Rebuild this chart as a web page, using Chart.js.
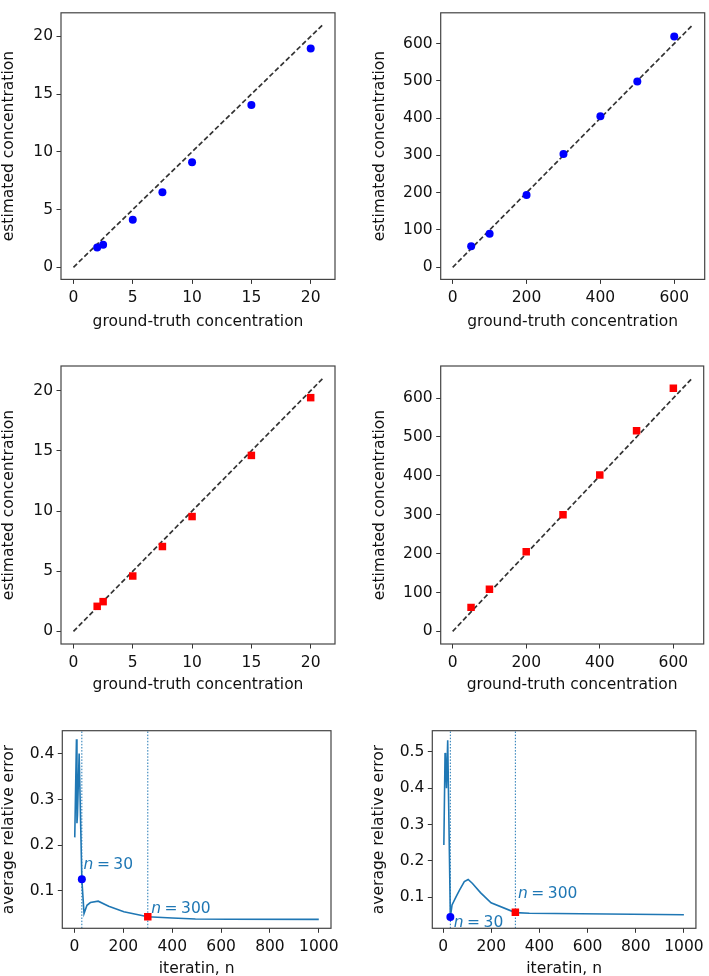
<!DOCTYPE html>
<html><head><meta charset="utf-8">
<script src="https://cdn.jsdelivr.net/npm/chart.js@4.4.0/dist/chart.umd.min.js"></script>
<style>
html,body{margin:0;padding:0;background:#fff;width:709px;height:976px;overflow:hidden;position:relative}
canvas{position:absolute}
</style></head><body>
<canvas id="c1"></canvas><canvas id="c2"></canvas><canvas id="c3"></canvas>
<canvas id="c4"></canvas><canvas id="c5"></canvas><canvas id="c6"></canvas>
<script>
// ---------- data ----------
const lowTruth  = [2, 2.5, 5, 7.5, 10, 15, 20];
const lowEstA   = [1.71, 1.96, 4.12, 6.51, 9.09, 14.07, 18.95];
const lowEstB   = [2.08, 2.47, 4.60, 7.05, 9.54, 14.62, 19.42];
const highTruth = [50, 100, 200, 300, 400, 500, 600];
const highEstA  = [56.6, 90, 193.7, 304, 405, 498, 618.7];
const highEstB  = [61.7, 108, 204.8, 300, 402, 516, 625.5];
const lowDiag   = [0, 21];
const highDiag  = [0, 650];

const iterA = [1, 8, 10, 12, 19, 30, 39, 51, 65, 97, 140, 202, 300, 400, 495, 631, 1000];
const errA  = [0.217, 0.432, 0.248, 0.265, 0.401, 0.125, 0.050, 0.068, 0.074, 0.077, 0.066, 0.054, 0.043, 0.040, 0.038, 0.0373, 0.037];
const iterB = [3, 8, 10, 14, 19, 30, 37, 54, 68, 88, 104, 122, 155, 199, 300, 358, 1000];
const errB  = [0.244, 0.497, 0.490, 0.400, 0.532, 0.045, 0.079, 0.102, 0.120, 0.143, 0.149, 0.138, 0.113, 0.085, 0.058, 0.056, 0.052];

const markIters = [30, 300];
const markErrA  = [0.125, 0.043];
const markErrB  = [0.046, 0.059];
const markLabels = ['30', '300'];

const lowTicks   = [0, 5, 10, 15, 20];
const highXTicks = [0, 200, 400, 600];
const highYTicks = [0, 100, 200, 300, 400, 500, 600];
const iterTicks  = [0, 200, 400, 600, 800, 1000];
const errTicksA  = [0.1, 0.2, 0.3, 0.4];
const errTicksB  = [0.1, 0.2, 0.3, 0.4, 0.5];

const xTitleConc = 'ground-truth concentration';
const yTitleConc = 'estimated concentration';
const xTitleIter = 'iteratin, n';
const yTitleErr  = 'average relative error';

// ---------- helpers ----------
const FONT = '"DejaVu Sans", sans-serif';
const FS = 15.5;
const TXT = '#111';
const C0 = '#1f77b4';
const xy = (xs, ys) => xs.map((x, i) => ({x, y: ys[i]}));
const intFmt = v => String(v);
const decFmt = v => v.toFixed(1);

function axis(o) {
  return {
    type: 'linear', min: o.min, max: o.max,
    afterBuildTicks: s => { s.ticks = o.ticks.map(v => ({value: v})); },
    afterFit: s => { if (o.isX) s.height = o.size; else s.width = o.size; },
    grid: {drawOnChartArea: false, drawTicks: true, tickLength: 4.5, color: '#333', lineWidth: 1},
    border: {display: false},
    ticks: {font: {family: FONT, size: FS}, color: TXT, padding: o.isX ? 5 : 3.5,
            callback: o.fmt, maxRotation: 0, minRotation: 0, autoSkip: false},
    title: {display: true, text: o.title, font: {family: FONT, size: FS}, color: TXT,
            padding: o.isX ? {top: 0, bottom: o.tpad} : {top: o.tpad, bottom: 0}}
  };
}

const framePlugin = {
  id: 'frame',
  afterDatasetsDraw(chart) {
    const a = chart.chartArea, ctx = chart.ctx;
    ctx.save();
    ctx.strokeStyle = '#444'; ctx.lineWidth = 1.2;
    ctx.strokeRect(a.left, a.top, a.right - a.left, a.bottom - a.top);
    ctx.restore();
  }
};

function annotPlugin(items) {
  return {
    id: 'annot',
    afterDatasetsDraw(chart) {
      const ctx = chart.ctx, sx = chart.scales.x, sy = chart.scales.y;
      ctx.save();
      ctx.fillStyle = C0; ctx.textBaseline = 'alphabetic'; ctx.textAlign = 'left';
      items.forEach(it => {
        let x = sx.getPixelForValue(it.x), y = sy.getPixelForValue(it.y);
        ctx.font = 'italic ' + FS + 'px ' + FONT;
        ctx.fillText('n', x, y);
        x += ctx.measureText('n').width + 3.5;
        ctx.font = FS + 'px ' + FONT;
        ctx.fillText('=', x, y);
        x += ctx.measureText('=').width + 3.5;
        ctx.fillText(it.text, x, y);
      });
      ctx.restore();
    }
  };
}

function panel(id, box, area, xo, yo, datasets, plugins) {
  const cv = document.getElementById(id);
  cv.width = box.w; cv.height = box.h;
  cv.style.left = box.left + 'px'; cv.style.top = box.top + 'px';
  cv.style.width = box.w + 'px'; cv.style.height = box.h + 'px';
  xo.isX = true; xo.size = box.top + box.h - area.B;
  yo.isX = false; yo.size = area.L - box.left;
  return new Chart(cv, {
    type: 'scatter',
    data: {datasets},
    options: {
      responsive: false, animation: false, devicePixelRatio: 1,
      layout: {padding: {left: 0, bottom: 0, top: area.T - box.top, right: box.left + box.w - area.R}},
      plugins: {legend: {display: false}, tooltip: {enabled: false}},
      scales: {x: axis(xo), y: axis(yo)},
      elements: {line: {tension: 0}}
    },
    plugins: [framePlugin].concat(plugins || [])
  });
}

function diag(vals) {
  return {type: 'scatter', showLine: true, data: xy(vals, vals), borderColor: '#333',
          borderWidth: 1.7, borderDash: [5, 2.6], pointRadius: 0, fill: false};
}
function dots(xs, ys) {
  return {data: xy(xs, ys), backgroundColor: '#0000ff', borderColor: '#0000ff', borderWidth: 0,
          pointRadius: 4, pointStyle: 'circle'};
}
function squares(xs, ys) {
  return {data: xy(xs, ys), backgroundColor: '#ff0000', borderColor: '#ff0000', borderWidth: 0,
          pointRadius: 5.3, pointStyle: 'rect'};
}
function vline(x, lo, hi) {
  return {showLine: true, data: [{x, y: lo}, {x, y: hi}], borderColor: C0, borderWidth: 1,
          borderDash: [1.5, 1.6], pointRadius: 0};
}
function curve(xs, ys) {
  return {showLine: true, data: xy(xs, ys), borderColor: C0, borderWidth: 1.6, pointRadius: 0};
}

// ---------- panels ----------
const Y_TPAD_L = 0, Y_TPAD_R = 16;

panel('c1', {left: 0, top: 0, w: 355, h: 335}, {L: 61, T: 1.5, R: 335, B: 279.4},
  {min: -1.05, max: 22.05, ticks: lowTicks, title: xTitleConc, fmt: intFmt, tpad: 4},
  {min: -1.05, max: 22.05, ticks: lowTicks, title: yTitleConc, fmt: intFmt, tpad: Y_TPAD_L},
  [dots(lowTruth, lowEstA), diag(lowDiag)]);

panel('c2', {left: 355, top: 0, w: 354, h: 335}, {L: 440.7, T: 1.5, R: 704.7, B: 279.4},
  {min: -32.5, max: 682.5, ticks: highXTicks, title: xTitleConc, fmt: intFmt, tpad: 4},
  {min: -32.5, max: 682.5, ticks: highYTicks, title: yTitleConc, fmt: intFmt, tpad: Y_TPAD_R},
  [dots(highTruth, highEstA), diag(highDiag)]);

panel('c3', {left: 0, top: 340, w: 355, h: 360}, {L: 61, T: 366, R: 335, B: 644},
  {min: -1.05, max: 22.05, ticks: lowTicks, title: xTitleConc, fmt: intFmt, tpad: 6},
  {min: -1.05, max: 22.05, ticks: lowTicks, title: yTitleConc, fmt: intFmt, tpad: Y_TPAD_L},
  [squares(lowTruth, lowEstB), diag(lowDiag)]);

panel('c4', {left: 355, top: 340, w: 354, h: 360}, {L: 440.7, T: 366, R: 704.7, B: 644},
  {min: -32.5, max: 682.5, ticks: highXTicks, title: xTitleConc, fmt: intFmt, tpad: 6},
  {min: -32.5, max: 682.5, ticks: highYTicks, title: yTitleConc, fmt: intFmt, tpad: Y_TPAD_R},
  [squares(highTruth, highEstB), diag(highDiag)]);

const yA = [0.0175, 0.451], yB = [0.0148, 0.558];
panel('c5', {left: 0, top: 700, w: 355, h: 285}, {L: 62.3, T: 730.7, R: 331, B: 928.3},
  {min: -50, max: 1050, ticks: iterTicks, title: xTitleIter, fmt: intFmt, tpad: 7},
  {min: yA[0], max: yA[1], ticks: errTicksA, title: yTitleErr, fmt: decFmt, tpad: Y_TPAD_L},
  [dots([markIters[0]], [markErrA[0]]), squares([markIters[1]], [markErrA[1]]),
   curve(iterA, errA), vline(markIters[0], yA[0], yA[1]), vline(markIters[1], yA[0], yA[1])],
  [annotPlugin([{x: 37, y: 0.148, text: markLabels[0]}, {x: 314, y: 0.050, text: markLabels[1]}])]);

panel('c6', {left: 355, top: 700, w: 354, h: 285}, {L: 432.3, T: 730.7, R: 700.5, B: 928.3},
  {min: -45, max: 1050, ticks: iterTicks, title: xTitleIter, fmt: intFmt, tpad: 7},
  {min: yB[0], max: yB[1], ticks: errTicksB, title: yTitleErr, fmt: decFmt, tpad: 15},
  [dots([markIters[0]], [markErrB[0]]), squares([markIters[1]], [markErrB[1]]),
   curve(iterB, errB), vline(markIters[0], yB[0], yB[1]), vline(markIters[1], yB[0], yB[1])],
  [annotPlugin([{x: 44, y: 0.018, text: markLabels[0]}, {x: 311, y: 0.098, text: markLabels[1]}])]);
</script>
</body></html>
